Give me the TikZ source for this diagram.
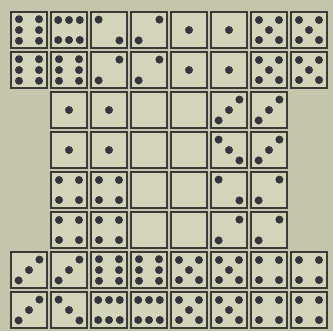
\documentclass[tikz,border=0pt]{standalone}
\usepackage{tikz}
\usetikzlibrary{calc}
\definecolor{PaperTone}{HTML}{C4C5AB}
\definecolor{FaceTone}{HTML}{D4D4BA}
\definecolor{InkTone}{HTML}{3A3A36}
\definecolor{PipTone}{HTML}{34353D}
% pip layouts, offsets from the centre of a face
\def\pipone{0/0}
\def\piptwoA{-0.26/0.26,0.26/-0.26}
\def\piptwoB{0.26/0.26,-0.26/-0.26}
\def\pipthreeA{-0.26/-0.26,0/0,0.26/0.26}
\def\pipthreeB{-0.26/0.26,0/0,0.26/-0.26}
\def\pipfour{-0.25/0.25,0.25/0.25,-0.25/-0.25,0.25/-0.25}
\def\pipfive{-0.25/0.25,0.25/0.25,0/0,-0.25/-0.25,0.25/-0.25}
\def\pipsixV{-0.25/0.27,-0.25/0,-0.25/-0.27,0.25/0.27,0.25/0,0.25/-0.27}
\def\pipsixH{-0.27/0.25,0/0.25,0.27/0.25,-0.27/-0.25,0/-0.25,0.27/-0.25}

\begin{document}
\begin{tikzpicture}[x=1cm,y=1cm,
 face/.style={draw=InkTone,fill=FaceTone,line width=1.1pt,
              minimum size=9.1mm,inner sep=0pt,outer sep=0pt},
 pip/.style={fill=PipTone}]
\fill[PaperTone] (0,0) rectangle (8.325,-8.275);
\useasboundingbox (0,0) rectangle (8.325,-8.275);
% faces with pips
\foreach \row/\col/\kind in {
 1/1/sixV,1/2/sixH,1/3/twoA,1/4/twoB,1/5/one,1/6/one,1/7/five,1/8/five,
 2/1/sixV,2/2/sixV,2/3/twoB,2/4/twoB,2/5/one,2/6/one,2/7/five,2/8/five,
 3/2/one,3/3/one,3/6/threeA,3/7/threeA,
 4/2/one,4/3/one,4/6/threeB,4/7/threeA,
 5/2/four,5/3/four,5/6/twoA,5/7/twoB,
 6/2/four,6/3/four,6/6/twoB,6/7/twoB,
 7/1/threeA,7/2/threeA,7/3/sixV,7/4/sixV,7/5/five,7/6/five,7/7/four,7/8/four,
 8/1/threeA,8/2/threeB,8/3/sixH,8/4/sixH,8/5/five,8/6/five,8/7/four,8/8/four}{
 \node[face] (s\row\col) at ({0.725+\col-1},{-0.75-(\row-1)}) {};
 \edef\pipList{\csname pip\kind\endcsname}
 \foreach \px/\py in \pipList
  \fill[pip] ($(s\row\col)+(\px,\py)$) circle (0.1);
}
% blank faces
\foreach \row in {3,...,6}
 \foreach \col in {4,5}
  \node[face] (s\row\col) at ({0.725+\col-1},{-0.75-(\row-1)}) {};
\end{tikzpicture}
\end{document}
